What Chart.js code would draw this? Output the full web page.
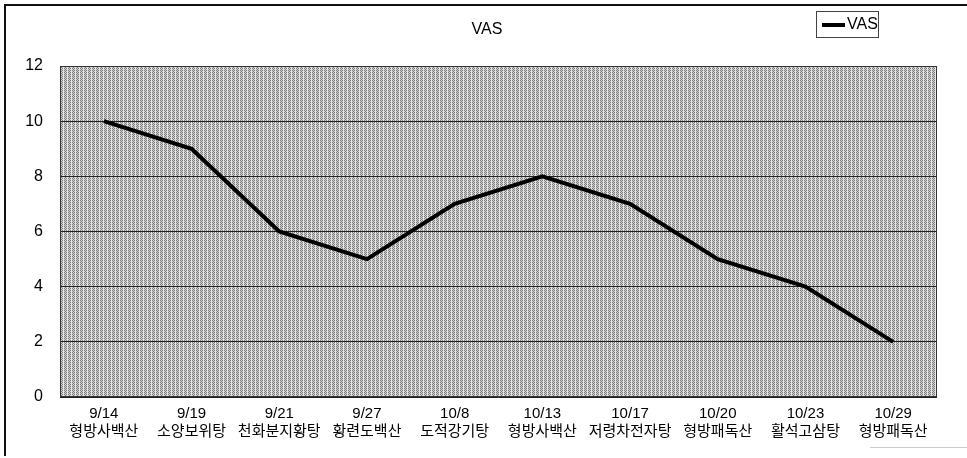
<!DOCTYPE html>
<html>
<head>
<meta charset="utf-8">
<script src="https://cdn.jsdelivr.net/npm/chart.js@4.4.0/dist/chart.umd.min.js"></script>
<style>
  html, body { margin: 0; padding: 0; background: #fff; }
  #wrap { width: 967px; height: 458px; position: relative; }
</style>
</head>
<body>
<div id="wrap"><canvas id="myChart" width="967" height="458"></canvas></div>
<script>
// data
const dates = ["9/14", "9/19", "9/21", "9/27", "10/8", "10/13", "10/17", "10/20", "10/23", "10/29"];
const remedies = ["형방사백산", "소양보위탕", "천화분지황탕", "황련도백산", "도적강기탕", "형방사백산", "저령차전자탕", "형방패독산", "활석고삼탕", "형방패독산"];
const vas = [10, 9, 6, 5, 7, 8, 7, 5, 4, 2];
const yTicks = [0, 2, 4, 6, 8, 10, 12];

const labels = dates.map((d, i) => [d, remedies[i]]);

// dithered grey fill like the scanned print
const makePattern = (ctx) => {
  const c = document.createElement("canvas");
  c.width = 4;
  c.height = 4;
  const p = c.getContext("2d");
  p.fillStyle = "#cfcfcf";
  p.fillRect(0, 0, 4, 4);
  p.fillStyle = "#7e7e7e";
  for (let y = 0; y < 4; y++) {
    for (let x = 0; x < 4; x++) {
      if ((x + y) % 2 === 0) p.fillRect(x, y, 1, 1);
    }
  }
  p.fillStyle = "#e6e6e6";
  p.fillRect(3, 0, 1, 4);
  return ctx.createPattern(c, "repeat");
};

const frame = {
  id: "frame",
  beforeDraw(chart) {
    const { ctx, chartArea: a } = chart;
    ctx.save();
    ctx.fillStyle = makePattern(ctx);
    ctx.fillRect(a.left, a.top, a.right - a.left, a.bottom - a.top);
    // outer frame
    ctx.strokeStyle = "#111";
    ctx.lineWidth = 2;
    ctx.beginPath();
    ctx.moveTo(5, 456);
    ctx.lineTo(5, 5);
    ctx.lineTo(967, 5);
    ctx.stroke();
    ctx.strokeStyle = "#ccc";
    ctx.lineWidth = 1;
    ctx.beginPath();
    ctx.moveTo(870, 447.5);
    ctx.lineTo(967, 447.5);
    ctx.stroke();
    ctx.restore();
  },
  afterDraw(chart) {
    const { ctx, chartArea: a } = chart;
    ctx.save();
    ctx.strokeStyle = "#333";
    ctx.lineWidth = 1;
    ctx.strokeRect(a.left + 0.5, a.top + 0.5, a.right - a.left - 1, a.bottom - a.top - 1);
    // title
    ctx.fillStyle = "#000";
    ctx.font = "16px 'Liberation Sans', Arial, sans-serif";
    ctx.textAlign = "center";
    ctx.textBaseline = "middle";
    ctx.fillText("VAS", 487, 30);
    // legend box
    const ds = chart.data.datasets[0];
    ctx.strokeStyle = "#444";
    ctx.strokeRect(816.5, 11.5, 62, 26);
    ctx.strokeStyle = ds.borderColor;
    ctx.lineWidth = 4;
    ctx.beginPath();
    ctx.moveTo(822, 25);
    ctx.lineTo(845, 25);
    ctx.stroke();
    ctx.textAlign = "left";
    ctx.fillText(ds.label, 847, 25);
    ctx.restore();
  },
};

const ctx = document.getElementById("myChart").getContext("2d");
const chart = new Chart(ctx, {
  type: "line",
  data: {
    labels: labels,
    datasets: [
      {
        label: "VAS",
        data: vas,
        borderColor: "#000",
        borderWidth: 4,
        pointRadius: 0,
        tension: 0,
        fill: false,
      },
    ],
  },
  options: {
    responsive: false,
    animation: false,
    layout: { padding: { top: 66, left: 5, right: 30, bottom: 4 } },
    plugins: {
      legend: { display: false },
      title: { display: false },
      tooltip: { enabled: false },
    },
    scales: {
      x: {
        offset: true,
        grid: { display: false },
        border: { display: false },
        ticks: {
          color: "#000",
          maxRotation: 0,
          autoSkip: false,
          padding: 0,
          font: { size: 15, family: "'Liberation Sans', 'Noto Sans CJK KR', sans-serif", lineHeight: 1.2 },
        },
        afterFit(scale) {
          scale.height = 57;
        },
      },
      y: {
        min: 0,
        max: 12,
        afterBuildTicks(scale) {
          scale.ticks = yTicks.map((v) => ({ value: v }));
        },
        grid: { color: "#222", lineWidth: 1, drawTicks: false },
        border: { display: false },
        ticks: {
          color: "#000",
          padding: 17,
          font: { size: 16, family: "'Liberation Sans', Arial, sans-serif" },
        },
        afterFit(scale) {
          scale.width = 55;
        },
      },
    },
  },
  plugins: [frame],
});
</script>
</body>
</html>
